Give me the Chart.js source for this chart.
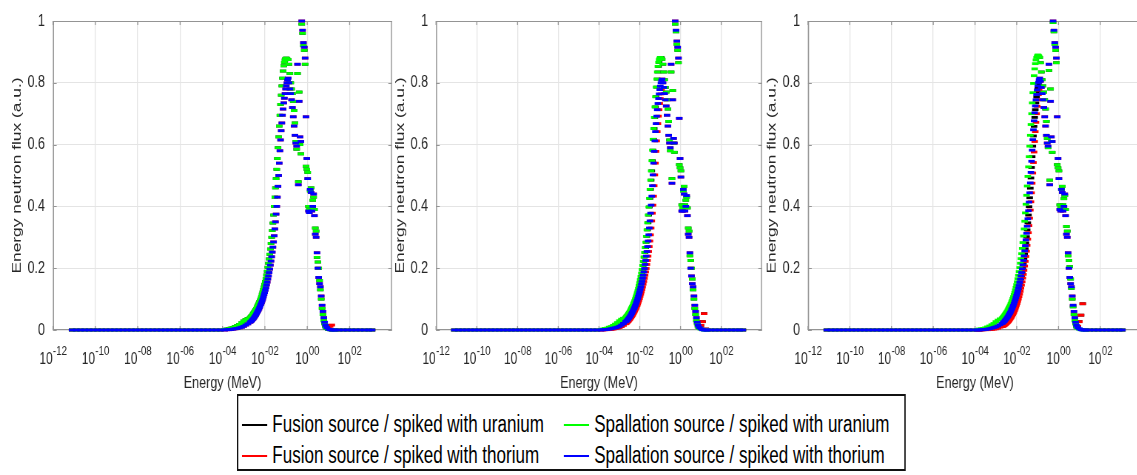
<!DOCTYPE html>
<html>
<head>
<meta charset="utf-8">
<script src="https://cdn.jsdelivr.net/npm/chart.js@4.4.1/dist/chart.umd.min.js"></script>
<style>
html,body{margin:0;padding:0;background:#fff;overflow:hidden;}
body{width:1137px;height:475px;position:relative;font-family:"Liberation Sans",Arial,Helvetica,sans-serif;}
#wrap{position:absolute;left:0;top:0;width:1537px;height:475px;transform:scaleX(0.74);transform-origin:0 0;}
canvas{position:absolute;top:0;}
#legend{position:absolute;left:320px;top:394px;width:904px;height:77px;border:2px solid #111;box-sizing:border-box;background:#fff;}
.item{position:absolute;font-size:23px;line-height:26px;color:#000;white-space:nowrap;}
.item .mk{display:inline-block;width:34px;height:2px;vertical-align:middle;margin-right:7px;position:relative;top:-1px;}
</style>
</head>
<body>
<div id="wrap">
<canvas id="c1" width="540" height="400" style="left:0px"></canvas>
<canvas id="c2" width="522" height="400" style="left:518px"></canvas>
<canvas id="c3" width="534" height="400" style="left:1020px"></canvas>
<div id="legend"></div>
</div>
<script>
// ---------- axis / label data ----------
const xTitle = 'Energy (MeV)';
const yTitle = 'Energy neutron flux (a.u.)';
const xTickValues = [1e-12, 1e-10, 1e-8, 1e-6, 1e-4, 1e-2, 1e0, 1e2];
const xTickBase = '10';
const xTickExponents = ['-12', '-10', '-08', '-06', '-04', '-02', '00', '02'];
const yTickValues = [0, 0.2, 0.4, 0.6, 0.8, 1];
const yTickLabels = ['0', '0.2', '0.4', '0.6', '0.8', '1'];

const seriesNames = [
  'Fusion source / spiked with uranium',
  'Fusion source / spiked with thorium',
  'Spallation source / spiked with uranium',
  'Spallation source / spiked with thorium'
];
const seriesColors = ['#000000', '#ff0000', '#00ff00', '#0000ff'];

// ---------- energy grid, log10(E / MeV) ----------
const energyExpLow = [-11.1,-10.9,-10.7,-10.5,-10.3,-10.1,-9.9,-9.7,-9.5,-9.3,-9.1,-8.9,-8.7,-8.5,-8.3,-8.1,-7.9,-7.7,
  -7.5,-7.3,-7.1,-6.9,-6.7,-6.5,-6.3,-6.1,-5.9,-5.7,-5.5,-5.3,-5.1,-4.9,-4.7,-4.5,-4.3,-4.1];
const fluxLow = [0,0,0,0,0,0,0,0,0,0,0,0,0,0,0,0,0,0,0,0,0,0,0,0,0,0,0,0,0,0,0,0,0,0,0,0];
const energyExp = [
  -3.9,-3.8,-3.7,-3.6,-3.5,-3.4,-3.3,-3.2,-3.1,-3.0,-2.9,-2.8,
  -2.70,-2.67,-2.64,-2.61,-2.58,-2.55,-2.52,-2.49,-2.46,-2.43,
  -2.40,-2.37,-2.34,-2.31,-2.28,-2.25,-2.22,-2.19,-2.16,-2.13,
  -2.10,-2.07,-2.04,-2.01,-1.98,-1.95,-1.92,-1.89,-1.86,-1.83,
  -1.80,-1.77,-1.74,-1.71,-1.68,-1.65,-1.62,-1.59,-1.56,-1.53,
  -1.50,-1.47,-1.44,-1.41,-1.38,-1.35,-1.32,-1.29,-1.26,-1.23,
  -1.20,-1.17,-1.14,-1.11,-1.08,-1.05,-1.02,-0.99,-0.96,-0.93,
  -0.90,-0.86,-0.82,-0.78,-0.74,-0.70,-0.66,-0.62,-0.58,-0.54,
  -0.50,-0.46,-0.42,-0.38,-0.34,-0.30,-0.26,-0.22,-0.18,-0.14,
  -0.10,-0.06,-0.02,0.02,0.06,0.10,0.14,0.18,0.22,0.26,
  0.30,0.34,0.38,0.42,0.46,0.50,0.54,0.58,0.62,0.66,
  0.70,0.74,0.78,0.82,0.86,
  0.92,1.00,1.08,1.16,1.24,1.32];
const energyExpHigh = [1.5,1.7,1.9,2.1,2.3,2.5,2.7,2.9,3.06];
const fluxHigh = [0,0,0,0,0,0,0,0,0];

// ---------- panel 1 ----------
const p1FusionU = [
  .002,.003,.004,.006,.008,.011,.014,.018,.023,.029,.034,.037,
  .040,.042,.045,.047,.050,.053,.056,.059,.062,.066,
  .070,.074,.078,.082,.087,.092,.097,.103,.109,.116,
  .123,.131,.139,.148,.157,.167,.178,.190,.203,.216,
  .230,.245,.262,.280,.300,.322,.346,.372,.40,.43,
  .46,.49,.52,.555,.59,.625,.66,.695,.73,.76,
  .79,.815,.838,.855,.866,.874,.879,.88,.878,.876,
  .875,.86,.83,.80,.78,.765,.74,.71,.67,.61,
  .585,.83,.48,.77,.60,.57,.99,.96,.92,.905,
  .86,.53,.52,.51,.40,.39,.45,.46,.40,.42,
  .43,.39,.33,.32,.235,.22,.20,.16,.13,.10,
  .07,.05,.03,.02,.01,
  .005,.002,.001,0,0,0];
const p1FusionTh = [
  0,.001,.001,.002,.003,.004,.005,.007,.009,.012,.016,.020,
  .025,.027,.029,.031,.034,.036,.039,.042,.045,.048,
  .052,.056,.060,.064,.068,.073,.078,.083,.088,.094,
  .100,.107,.114,.121,.129,.137,.146,.155,.165,.175,
  .186,.197,.210,.223,.237,.252,.268,.285,.305,.327,
  .350,.375,.400,.430,.465,.500,.540,.580,.615,.645,
  .670,.695,.715,.735,.750,.765,.780,.790,.800,.810,
  .815,.80,.78,.765,.745,.72,.69,.66,.63,.605,
  .595,.86,.47,.74,.625,.61,1.0,.97,.93,.915,
  .88,.69,.555,.49,.385,.38,.455,.445,.385,.40,
  .44,.37,.31,.30,.25,.20,.17,.15,.14,.11,
  .08,.06,.04,.025,.015,
  .008,.006,.012,.016,0,0];
const p1SpallU = [
  .002,.003,.004,.006,.008,.011,.014,.018,.023,.029,.034,.037,
  .040,.042,.045,.047,.050,.053,.056,.059,.062,.066,
  .070,.074,.078,.082,.087,.092,.097,.103,.109,.116,
  .123,.131,.139,.148,.157,.167,.178,.190,.203,.216,
  .230,.245,.262,.280,.300,.322,.346,.372,.40,.43,
  .46,.49,.52,.555,.59,.625,.66,.695,.73,.76,
  .79,.815,.838,.855,.866,.874,.879,.88,.878,.876,
  .875,.86,.83,.80,.78,.765,.74,.71,.67,.61,
  .585,.83,.48,.77,.60,.57,.99,.96,.92,.905,
  .86,.53,.52,.51,.40,.39,.45,.46,.40,.42,
  .43,.39,.33,.32,.235,.22,.20,.16,.13,.10,
  .07,.05,.03,.02,.01,
  .005,.002,.001,0,0,0];
const p1SpallTh = [
  0,.001,.001,.002,.003,.004,.005,.007,.009,.012,.016,.020,
  .025,.027,.029,.031,.034,.036,.039,.042,.045,.048,
  .052,.056,.060,.064,.068,.073,.078,.083,.088,.094,
  .100,.107,.114,.121,.129,.137,.146,.155,.165,.175,
  .186,.197,.210,.223,.237,.252,.268,.285,.305,.327,
  .350,.375,.400,.430,.465,.500,.540,.580,.615,.645,
  .670,.695,.715,.735,.750,.765,.780,.790,.800,.810,
  .815,.80,.78,.765,.745,.72,.69,.66,.63,.605,
  .595,.86,.47,.74,.625,.61,1.0,.97,.93,.915,
  .88,.69,.555,.49,.385,.38,.455,.445,.385,.40,
  .44,.37,.31,.30,.25,.20,.17,.15,.14,.11,
  .08,.06,.04,.025,.015,
  .008,.003,.001,0,0,0];

// ---------- panel 2 ----------
const p2FusionU = [
  .001,.002,.003,.005,.006,.009,.011,.015,.019,.024,.030,.035,
  .039,.041,.043,.046,.048,.051,.054,.057,.060,.064,
  .068,.072,.076,.080,.085,.090,.095,.101,.107,.113,
  .120,.127,.135,.144,.153,.163,.173,.184,.196,.209,
  .222,.236,.251,.267,.284,.303,.324,.347,.372,.398,
  .426,.455,.485,.515,.548,.582,.617,.652,.688,.722,
  .755,.786,.812,.835,.853,.866,.875,.880,.882,.880,
  .876,.86,.835,.81,.785,.77,.745,.715,.675,.615,
  .58,.835,.49,.775,.605,.575,.99,.965,.925,.905,
  .865,.535,.525,.515,.405,.395,.45,.465,.405,.42,
  .43,.395,.33,.32,.24,.225,.20,.165,.13,.10,
  .07,.05,.03,.02,.01,
  .012,.015,.027,.053,.003,0];
const p2FusionTh = [
  0,0,.001,.001,.002,.002,.003,.005,.006,.008,.011,.015,
  .020,.021,.023,.025,.027,.029,.032,.034,.037,.040,
  .043,.046,.049,.053,.057,.061,.065,.069,.074,.079,
  .084,.090,.096,.102,.109,.116,.123,.131,.139,.148,
  .157,.167,.177,.188,.199,.212,.225,.239,.254,.270,
  .288,.308,.330,.353,.378,.404,.433,.467,.502,.540,
  .578,.612,.642,.668,.692,.713,.733,.749,.764,.778,
  .812,.80,.785,.765,.745,.725,.695,.66,.63,.605,
  .59,.86,.475,.745,.62,.605,1.0,.97,.935,.915,
  .88,.685,.555,.495,.385,.385,.455,.44,.385,.40,
  .435,.37,.31,.30,.25,.20,.175,.15,.14,.11,
  .08,.06,.04,.025,.015,
  .012,.015,.027,.053,.003,0];
const p2SpallU = [
  .002,.003,.005,.006,.009,.011,.015,.019,.024,.030,.035,.038,
  .041,.043,.046,.048,.051,.054,.057,.060,.064,.068,
  .072,.076,.080,.085,.090,.095,.101,.107,.113,.120,
  .127,.135,.144,.153,.163,.173,.184,.196,.209,.222,
  .236,.251,.267,.284,.303,.324,.347,.372,.398,.426,
  .455,.485,.515,.548,.582,.617,.652,.688,.722,.755,
  .786,.812,.835,.853,.866,.875,.880,.882,.880,.877,
  .876,.86,.835,.81,.785,.77,.745,.715,.675,.615,
  .58,.835,.49,.775,.605,.575,.99,.965,.925,.905,
  .865,.535,.525,.515,.405,.395,.45,.465,.405,.42,
  .43,.395,.33,.32,.24,.225,.20,.165,.13,.10,
  .07,.05,.03,.02,.01,
  .005,.003,.001,0,0,0];
const p2SpallTh = [
  0,.001,.001,.002,.003,.004,.006,.007,.009,.012,.016,.021,
  .026,.028,.030,.032,.035,.037,.040,.043,.046,.049,
  .053,.057,.061,.065,.069,.074,.079,.084,.090,.096,
  .102,.109,.116,.123,.131,.139,.148,.157,.167,.177,
  .188,.199,.212,.225,.239,.254,.270,.288,.308,.330,
  .353,.378,.404,.433,.467,.502,.540,.578,.612,.642,
  .668,.692,.713,.733,.749,.764,.778,.789,.800,.808,
  .812,.80,.785,.765,.745,.725,.695,.66,.63,.605,
  .59,.86,.475,.745,.62,.605,1.0,.97,.935,.915,
  .88,.685,.555,.495,.385,.385,.455,.44,.385,.40,
  .435,.37,.31,.30,.25,.20,.175,.15,.14,.11,
  .08,.06,.04,.025,.015,
  .008,.004,.001,0,0,0];

// ---------- panel 3 ----------
const p3FusionU = [
  0,0,.001,.001,.002,.002,.003,.004,.006,.008,.010,.013,
  .017,.018,.020,.022,.024,.026,.028,.031,.033,.036,
  .039,.043,.046,.050,.054,.058,.062,.067,.072,.077,
  .083,.089,.095,.102,.109,.117,.125,.134,.144,.154,
  .165,.176,.188,.201,.215,.230,.246,.263,.282,.302,
  .324,.347,.372,.399,.428,.459,.492,.526,.561,.595,
  .628,.659,.688,.713,.735,.754,.770,.783,.794,.803,
  .882,.865,.835,.81,.79,.77,.745,.715,.675,.62,
  .59,.84,.485,.78,.61,.575,.995,.965,.925,.905,
  .865,.535,.525,.515,.405,.395,.455,.465,.405,.425,
  .435,.39,.335,.32,.24,.225,.205,.165,.135,.10,
  .075,.05,.03,.02,.01,
  .012,.027,.048,.085,.002,0];
const p3FusionTh = [
  0,0,0,.001,.001,.001,.002,.002,.003,.004,.006,.009,
  .011,.012,.013,.014,.016,.017,.019,.021,.023,.025,
  .027,.030,.033,.036,.039,.042,.046,.050,.054,.058,
  .063,.068,.074,.080,.086,.093,.100,.108,.116,.125,
  .135,.145,.156,.168,.180,.193,.207,.222,.238,.255,
  .274,.294,.315,.338,.362,.388,.415,.444,.475,.508,
  .542,.576,.610,.642,.672,.70,.724,.745,.762,.776,
  .815,.805,.785,.765,.745,.72,.69,.66,.63,.605,
  .595,.86,.47,.74,.625,.61,1.0,.97,.93,.915,
  .88,.69,.555,.49,.39,.385,.455,.445,.385,.40,
  .44,.37,.31,.30,.25,.20,.17,.15,.14,.11,
  .08,.06,.04,.025,.015,
  .012,.027,.048,.085,.002,0];
const p3SpallU = [
  .002,.003,.004,.005,.007,.010,.013,.017,.021,.027,.032,.036,
  .039,.041,.044,.046,.049,.052,.055,.058,.061,.065,
  .069,.073,.077,.081,.086,.091,.096,.102,.108,.115,
  .122,.130,.138,.147,.156,.166,.177,.189,.202,.216,
  .231,.247,.264,.283,.304,.327,.352,.379,.407,.436,
  .466,.497,.528,.561,.595,.630,.665,.70,.735,.768,
  .798,.823,.845,.862,.874,.882,.887,.89,.889,.886,
  .882,.865,.835,.81,.79,.77,.745,.715,.675,.62,
  .59,.84,.485,.78,.61,.575,.995,.965,.925,.905,
  .865,.535,.525,.515,.405,.395,.455,.465,.405,.425,
  .435,.39,.335,.32,.24,.225,.205,.165,.135,.10,
  .075,.05,.03,.02,.01,
  .005,.003,.001,0,0,0];
const p3SpallTh = [
  0,0,.001,.001,.002,.003,.004,.006,.008,.010,.013,.017,
  .021,.023,.025,.027,.029,.032,.034,.037,.040,.043,
  .046,.050,.053,.057,.061,.066,.070,.075,.080,.086,
  .092,.098,.105,.112,.119,.127,.135,.144,.154,.164,
  .175,.186,.198,.211,.225,.240,.256,.273,.292,.313,
  .336,.360,.386,.414,.444,.476,.510,.546,.582,.616,
  .648,.677,.703,.725,.745,.762,.777,.790,.801,.810,
  .815,.805,.785,.765,.745,.72,.69,.66,.63,.605,
  .595,.86,.47,.74,.625,.61,1.0,.97,.93,.915,
  .88,.69,.555,.49,.39,.385,.455,.445,.385,.40,
  .44,.37,.31,.30,.25,.20,.17,.15,.14,.11,
  .08,.06,.04,.025,.015,
  .008,.004,.001,0,0,0];

const panels = [
  [p1FusionU, p1FusionTh, p1SpallU, p1SpallTh],
  [p2FusionU, p2FusionTh, p2SpallU, p2SpallTh],
  [p3FusionU, p3FusionTh, p3SpallU, p3SpallTh]
];

// ---------- layout (unsquished coordinates; page is scaled 0.74 horizontally) ----------
const panelLayout = [
  { yWidth: 71.6, padRight: 10.3 },
  { yWidth: 71.2, padRight: 10.3 },
  { yWidth: 71.9, padRight: 10.8 }
];

const FONT = '"Liberation Sans", Arial, Helvetica, sans-serif';
Chart.defaults.font.family = FONT;

function toPoints(vals) {
  const xs = energyExpLow.concat(energyExp, energyExpHigh);
  const ys = fluxLow.concat(vals, fluxHigh);
  return xs.map((e, i) => ({ x: Math.pow(10, e), y: ys[i] }));
}

const axesPlugin = {
  id: 'axesBox',
  beforeDatasetsDraw(chart) {
    const { ctx, chartArea: a, scales: { x, y } } = chart;
    ctx.save();
    ctx.strokeStyle = '#949494';
    ctx.lineWidth = 1;
    ctx.beginPath();
    ctx.moveTo(a.left, a.top + 0.5); ctx.lineTo(a.right, a.top + 0.5);
    ctx.moveTo(a.left, a.bottom - 0.5); ctx.lineTo(a.right, a.bottom - 0.5);
    ctx.stroke();
    ctx.lineWidth = 1.4;
    ctx.beginPath();
    ctx.moveTo(a.left + 0.7, a.top); ctx.lineTo(a.left + 0.7, a.bottom);
    ctx.moveTo(a.right - 0.7, a.top); ctx.lineTo(a.right - 0.7, a.bottom);
    ctx.stroke();
    ctx.lineWidth = 1.3;
    ctx.beginPath();
    xTickValues.forEach(v => {
      const px = x.getPixelForValue(v);
      ctx.moveTo(px, a.bottom); ctx.lineTo(px, a.bottom - 4);
      ctx.moveTo(px, a.top); ctx.lineTo(px, a.top + 4);
    });
    ctx.stroke();
    ctx.lineWidth = 1;
    ctx.beginPath();
    yTickValues.forEach(v => {
      const py = Math.round(y.getPixelForValue(v)) + 0.5;
      ctx.moveTo(a.left, py); ctx.lineTo(a.left + 5, py);
      ctx.moveTo(a.right, py); ctx.lineTo(a.right - 5, py);
    });
    ctx.stroke();
    ctx.restore();
  },
  afterDraw(chart) {
    const { ctx, scales: { x } } = chart;
    ctx.save();
    ctx.fillStyle = '#262626';
    ctx.textBaseline = 'alphabetic';
    ctx.textAlign = 'left';
    xTickValues.forEach((v, i) => {
      const px = x.getPixelForValue(v);
      ctx.font = '16px ' + FONT;
      const wb = ctx.measureText(xTickBase).width;
      ctx.font = '13px ' + FONT;
      const we = ctx.measureText(xTickExponents[i]).width;
      const x0 = px - (wb + we) / 2;
      ctx.font = '16px ' + FONT;
      ctx.fillText(xTickBase, x0, 364);
      ctx.font = '13px ' + FONT;
      ctx.fillText(xTickExponents[i], x0 + wb + 0.5, 355);
    });
    ctx.restore();
  }
};

const drawOrder = [3, 2, 1, 0];

panels.forEach((series, p) => {
  const canvas = document.getElementById('c' + (p + 1));
  const L = panelLayout[p];
  new Chart(canvas, {
    type: 'scatter',
    data: {
      datasets: series.map((vals, k) => ({
        label: seriesNames[k],
        data: toPoints(vals),
        showLine: false,
        pointStyle: 'line',
        pointRadius: 4.4,
        pointHoverRadius: 4.4,
        pointBorderWidth: 2.8,
        pointBorderColor: seriesColors[k],
        pointBackgroundColor: seriesColors[k],
        borderColor: seriesColors[k],
        backgroundColor: seriesColors[k],
        order: drawOrder[k],
        clip: false
      }))
    },
    options: {
      responsive: false,
      maintainAspectRatio: false,
      animation: false,
      devicePixelRatio: 1,
      events: [],
      layout: { padding: { left: 0, right: L.padRight, top: 17, bottom: 0 } },
      plugins: { legend: { display: false }, tooltip: { enabled: false } },
      scales: {
        x: {
          type: 'logarithmic',
          position: 'bottom',
          min: 1e-12,
          max: 1e4,
          afterBuildTicks: s => { s.ticks = xTickValues.map(v => ({ value: v })); },
          afterFit: s => { s.height = 70; },
          grid: { color: '#e4e4e4', lineWidth: 1.3, drawTicks: false },
          border: { display: false },
          ticks: { display: false },
          title: { display: true, text: xTitle, color: '#262626', font: { size: 17 }, padding: { top: 0, bottom: 6.8 } }
        },
        y: {
          type: 'linear',
          min: 0,
          max: 1,
          afterBuildTicks: s => { s.ticks = yTickValues.map(v => ({ value: v })); },
          afterFit: s => { s.width = L.yWidth; },
          grid: { color: '#e4e4e4', lineWidth: 1, drawTicks: false },
          border: { display: false },
          ticks: { color: '#262626', font: { size: 17 }, padding: 10.8, callback: (v, i) => yTickLabels[i] },
          title: { display: true, text: yTitle, color: '#262626', font: { size: 17.4 }, padding: { top: 12.6, bottom: 0 } }
        }
      }
    },
    plugins: [axesPlugin]
  });
});

// ---------- legend (HTML text) ----------
const legend = document.getElementById('legend');
const legendSlots = [
  { k: 0, left: 5, top: 15 },
  { k: 2, left: 440, top: 15 },
  { k: 1, left: 5, top: 46 },
  { k: 3, left: 440, top: 46 }
];
legendSlots.forEach(s => {
  const d = document.createElement('div');
  d.className = 'item';
  d.style.left = s.left + 'px';
  d.style.top = s.top + 'px';
  const mk = document.createElement('span');
  mk.className = 'mk';
  mk.style.background = seriesColors[s.k];
  d.appendChild(mk);
  d.appendChild(document.createTextNode(seriesNames[s.k]));
  legend.appendChild(d);
});
</script>
</body>
</html>
